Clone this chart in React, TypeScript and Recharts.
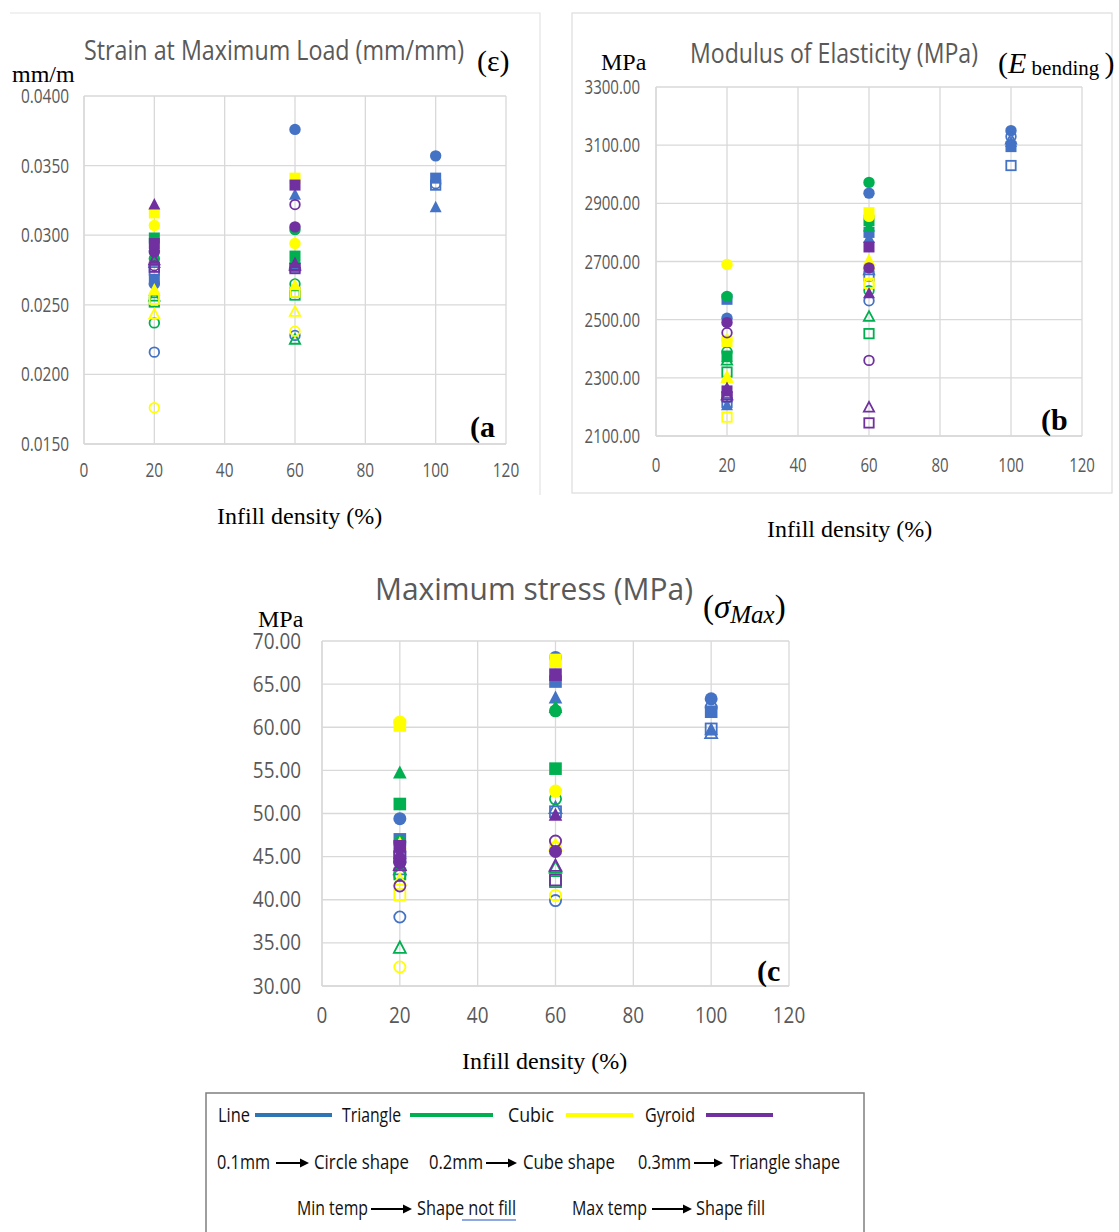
import { CartesianGrid, Scatter, ScatterChart, XAxis, YAxis } from "recharts";

// infill densities that were tested (x values of every series)
const DENSITY = [20, 60, 100];
const X_TICKS = [0, 20, 40, 60, 80, 100, 120];

const PATTERNS = ["Line", "Triangle", "Cubic", "Gyroid"];
const LAYERS = ["0.1mm", "0.2mm", "0.3mm"];
const TEMPS = ["Min temp", "Max temp"];

// every table: rows = [0.1 min, 0.1 max, 0.2 min, 0.2 max, 0.3 min, 0.3 max], columns = DENSITY
const STRAIN_LINE = [
  [0.0216, 0.0228, 0.0337],
  [0.0265, 0.0376, 0.0357],
  [0.0275, 0.0259, 0.0336],
  [0.0268, 0.0277, 0.0341],
  [0.028, 0.0279, null],
  [0.0292, 0.0329, 0.032],
];
const STRAIN_TRIANGLE = [
  [0.0237, 0.0265, null],
  [0.0283, 0.0304, null],
  [0.0252, 0.0257, null],
  [0.0298, 0.0285, null],
  [0.0256, 0.0225, null],
  [0.026, 0.0283, null],
];
const STRAIN_CUBIC = [
  [0.0176, 0.0231, null],
  [0.0307, 0.0294, null],
  [0.0254, 0.0259, null],
  [0.0316, 0.0341, null],
  [0.0243, 0.0245, null],
  [0.0261, 0.0264, null],
];
const STRAIN_GYROID = [
  [0.0278, 0.0322, null],
  [0.0288, 0.0306, null],
  [0.0277, 0.0276, null],
  [0.0294, 0.0336, null],
  [0.0282, 0.0278, null],
  [0.0322, 0.028, null],
];

const MODULUS_LINE = [
  [2230, 2565, 3130],
  [2505, 2935, 3150],
  [2215, 2650, 3030],
  [2570, 2800, 3095],
  [2240, 2670, 3120],
  [2205, 2780, 3110],
];
const MODULUS_TRIANGLE = [
  [2390, 2600, null],
  [2580, 2972, null],
  [2320, 2452, null],
  [2375, 2840, null],
  [2360, 2510, null],
  [2370, 2820, null],
];
const MODULUS_CUBIC = [
  [2430, 2620, null],
  [2690, 2855, null],
  [2165, 2625, null],
  [2425, 2868, null],
  [2300, 2690, null],
  [2305, 2705, null],
];
const MODULUS_GYROID = [
  [2455, 2360, null],
  [2490, 2678, null],
  [2235, 2145, null],
  [2255, 2750, null],
  [2240, 2198, null],
  [2265, 2590, null],
];

const STRESS_LINE = [
  [38.0, 39.9, 62.3],
  [49.4, 68.1, 63.3],
  [44.9, 50.2, 59.8],
  [47.0, 65.3, 61.8],
  [43.5, 50.6, 59.3],
  [45.0, 63.4, 59.7],
];
const STRESS_TRIANGLE = [
  [42.8, 51.7, null],
  [46.7, 61.9, null],
  [43.0, 42.1, null],
  [51.1, 55.2, null],
  [34.4, 43.7, null],
  [54.7, 62.3, null],
];
const STRESS_CUBIC = [
  [32.2, 40.5, null],
  [60.6, 52.6, null],
  [40.6, 46.0, null],
  [60.2, 67.8, null],
  [42.3, 46.3, null],
  [46.5, 67.5, null],
];
const STRESS_GYROID = [
  [41.6, 46.8, null],
  [44.3, 45.6, null],
  [45.0, 42.3, null],
  [46.2, 66.1, null],
  [44.0, 43.9, null],
  [45.4, 49.8, null],
];

const STRAIN_TICKS = [0.015, 0.02, 0.025, 0.03, 0.035, 0.04];
const MODULUS_TICKS = [2100, 2300, 2500, 2700, 2900, 3100, 3300];
const STRESS_TICKS = [30, 35, 40, 45, 50, 55, 60, 65, 70];

// styling
const MARKER_COLORS = ["#4472C4", "#00B050", "#FFFF00", "#7030A0"];
const LEGEND_COLORS = ["#2E75B6", "#00B050", "#FFFF00", "#7030A0"];
const LAYER_SHAPE = ["circle", "square", "triangle"];
const GRID = "#D9D9D9";
const TICK_GRAY = "#595959";
const SANS = "'Open Sans', 'Noto Sans', sans-serif";
const SERIF = "'Liberation Serif', 'DejaVu Serif', serif";

type MarkerProps = { cx?: number; cy?: number; shape: string; color: string; filled: boolean; r: number };

function Marker({ cx = 0, cy = 0, shape, color, filled, r }: MarkerProps) {
  const fill = filled ? color : "none";
  const sw = filled ? 0 : 1.8;
  if (shape === "circle") {
    return <circle cx={cx} cy={cy} r={filled ? r : r - 0.9} fill={fill} stroke={color} strokeWidth={sw} />;
  }
  if (shape === "square") {
    const h = filled ? r - 0.2 : r - 1;
    return <rect x={cx - h} y={cy - h} width={h * 2} height={h * 2} fill={fill} stroke={color} strokeWidth={sw} />;
  }
  const k = filled ? r : r - 0.8;
  const pts = `${cx},${cy - k * 1.15} ${cx + k * 1.05},${cy + k * 0.85} ${cx - k * 1.05},${cy + k * 0.85}`;
  return <polygon points={pts} fill={fill} stroke={color} strokeWidth={sw} strokeLinejoin="miter" />;
}

type PanelProps = {
  left: number;
  top: number;
  width: number;
  height: number;
  margin: { top: number; right: number; bottom: number; left: number };
  yDomain: [number, number];
  yTicks: number[];
  digits: number;
  tables: (number | null)[][][];
  r: number;
  font: number;
  sx: number;
  yOffset: number;
  xOffset: number;
};

function Panel(p: PanelProps) {
  const yTick = (props: any) => {
    const { x, y, payload } = props;
    return (
      <text
        transform={`translate(${x - p.yOffset},${y + p.font * 0.36}) scale(${p.sx},1)`}
        textAnchor="end"
        fontSize={p.font}
        fontFamily={SANS}
        fill={TICK_GRAY}
      >
        {Number(payload.value).toFixed(p.digits)}
      </text>
    );
  };
  const xTick = (props: any) => {
    const { x, y, payload } = props;
    return (
      <text
        transform={`translate(${x},${y + p.xOffset}) scale(${p.sx},1)`}
        textAnchor="middle"
        fontSize={p.font}
        fontFamily={SANS}
        fill={TICK_GRAY}
      >
        {payload.value}
      </text>
    );
  };

  return (
    <div style={{ position: "absolute", left: p.left, top: p.top }}>
      <ScatterChart width={p.width} height={p.height} margin={p.margin}>
        <CartesianGrid stroke={GRID} strokeWidth={1.3} />
        <XAxis
          type="number"
          dataKey="x"
          domain={[0, 120]}
          ticks={X_TICKS}
          interval={0}
          height={30}
          axisLine={{ stroke: GRID, strokeWidth: 1.3 }}
          tickLine={false}
          tickSize={0}
          tickMargin={0}
          tick={xTick}
        />
        <YAxis
          type="number"
          dataKey="y"
          domain={p.yDomain}
          ticks={p.yTicks}
          interval={0}
          allowDataOverflow
          width={80}
          axisLine={{ stroke: GRID, strokeWidth: 1.3 }}
          tickLine={false}
          tickSize={0}
          tickMargin={0}
          tick={yTick}
        />
        {p.tables.map((table, pi) =>
          table.map((row, ri) => {
            const shape = LAYER_SHAPE[Math.floor(ri / 2)];
            const filled = ri % 2 === 1;
            const data = DENSITY.map((x, i) => ({ x, y: row[i] })).filter((d) => d.y !== null);
            return (
              <Scatter
                key={`${PATTERNS[pi]}-${LAYERS[Math.floor(ri / 2)]}-${TEMPS[ri % 2]}`}
                name={`${PATTERNS[pi]} ${LAYERS[Math.floor(ri / 2)]} ${TEMPS[ri % 2]}`}
                data={data}
                isAnimationActive={false}
                shape={(sp: any) => (
                  <Marker cx={sp.cx} cy={sp.cy} shape={shape} color={MARKER_COLORS[pi]} filled={filled} r={p.r} />
                )}
              />
            );
          })
        )}
      </ScatterChart>
    </div>
  );
}

function Arrow({ x1, x2, y }: { x1: number; x2: number; y: number }) {
  return (
    <g>
      <line x1={x1} y1={y} x2={x2 - 7} y2={y} stroke="#000" strokeWidth={2} />
      <polygon points={`${x2},${y} ${x2 - 9},${y - 4.5} ${x2 - 9},${y + 4.5}`} fill="#000" />
    </g>
  );
}

function LText({ x, w, y, children }: { x: number; w: number; y: number; children: string }) {
  return (
    <text x={x} y={y} fontSize={20} fontFamily={SANS} fill="#111" textLength={w} lengthAdjust="spacingAndGlyphs">
      {children}
    </text>
  );
}

function Title({ x, w, y, size, children }: { x: number; w: number; y: number; size: number; children: string }) {
  return (
    <text x={x} y={y} fontSize={size} fontFamily={SANS} fill={TICK_GRAY} textLength={w} lengthAdjust="spacingAndGlyphs">
      {children}
    </text>
  );
}

function Overlay() {
  const serif = { fontFamily: SERIF, fill: "#000" };
  return (
    <svg width={1119} height={1232} style={{ position: "absolute", left: 0, top: 0, pointerEvents: "none" }}>
      {/* frames */}
      <polyline points="10,13 540,13 540,495" fill="none" stroke="#E3E3E3" strokeWidth={1.2} />
      <rect x={572} y={13} width={540} height={480} fill="none" stroke="#DDDDDD" strokeWidth={1.2} />

      {/* (a) */}
      <Title x={84} w={380} y={60} size={27}>Strain at Maximum Load (mm/mm)</Title>
      <text x={477} y={71} fontSize={30} {...serif}>(ε)</text>
      <text x={12} y={82} fontSize={24} {...serif}>mm/m</text>
      <text x={470} y={437} fontSize={30} fontWeight="bold" {...serif}>(a</text>
      <text x={217} y={524} fontSize={24} {...serif}>Infill density (%)</text>

      {/* (b) */}
      <Title x={690} w={288} y={63} size={27}>Modulus of Elasticity (MPa)</Title>
      <text x={601} y={70} fontSize={24} {...serif}>MPa</text>
      <text x={998} y={73} {...serif}>
        <tspan fontSize={30}>(</tspan>
        <tspan fontSize={30} fontStyle="italic">E</tspan>
        <tspan fontSize={21} dy={2}> bending </tspan>
        <tspan fontSize={30} dy={-2}>)</tspan>
      </text>
      <text x={1041} y={430} fontSize={30} fontWeight="bold" {...serif}>(b</text>
      <text x={767} y={537} fontSize={24} {...serif}>Infill density (%)</text>

      {/* (c) */}
      <Title x={375} w={318} y={600} size={31}>Maximum stress (MPa)</Title>
      <text x={258} y={627} fontSize={24} {...serif}>MPa</text>
      <text x={703} y={618} {...serif}>
        <tspan fontSize={33}>(</tspan>
        <tspan fontSize={33} fontStyle="italic">σ</tspan>
        <tspan fontSize={25} fontStyle="italic" dy={5}>Max</tspan>
        <tspan fontSize={33} dy={-5}>)</tspan>
      </text>
      <text x={757} y={981} fontSize={30} fontWeight="bold" {...serif}>(c</text>
      <text x={462} y={1069} fontSize={24} {...serif}>Infill density (%)</text>

      {/* legend box */}
      <rect x={206} y={1093} width={658} height={160} fill="none" stroke="#7F7F7F" strokeWidth={1.5} />
      <LText x={218} w={32} y={1122}>{PATTERNS[0]}</LText>
      <line x1={255} x2={332} y1={1115} y2={1115} stroke={LEGEND_COLORS[0]} strokeWidth={4} />
      <LText x={342} w={59} y={1122}>{PATTERNS[1]}</LText>
      <line x1={410} x2={493} y1={1115} y2={1115} stroke={LEGEND_COLORS[1]} strokeWidth={4} />
      <LText x={508} w={46} y={1122}>{PATTERNS[2]}</LText>
      <line x1={566} x2={633} y1={1115} y2={1115} stroke={LEGEND_COLORS[2]} strokeWidth={4} />
      <LText x={645} w={50} y={1122}>{PATTERNS[3]}</LText>
      <line x1={706} x2={773} y1={1115} y2={1115} stroke={LEGEND_COLORS[3]} strokeWidth={4} />

      <LText x={217} w={53} y={1169}>{LAYERS[0]}</LText>
      <Arrow x1={276} x2={309} y={1163} />
      <LText x={314} w={95} y={1169}>Circle shape</LText>
      <LText x={429} w={54} y={1169}>{LAYERS[1]}</LText>
      <Arrow x1={486} x2={517} y={1163} />
      <LText x={523} w={92} y={1169}>Cube shape</LText>
      <LText x={638} w={53} y={1169}>{LAYERS[2]}</LText>
      <Arrow x1={694} x2={723} y={1163} />
      <LText x={730} w={110} y={1169}>Triangle shape</LText>

      <LText x={297} w={71} y={1215}>{TEMPS[0]}</LText>
      <Arrow x1={371} x2={412} y={1209} />
      <LText x={417} w={99} y={1215}>Shape not fill</LText>
      <line x1={462} x2={516} y1={1220} y2={1220} stroke="#8EA9E0" strokeWidth={1.8} />
      <LText x={572} w={75} y={1215}>{TEMPS[1]}</LText>
      <Arrow x1={652} x2={692} y={1209} />
      <LText x={696} w={69} y={1215}>Shape fill</LText>
    </svg>
  );
}

export default function App() {
  return (
    <div style={{ position: "absolute", left: 0, top: 0, width: 1119, height: 1232, background: "#fff", overflow: "hidden" }}>
      <Panel
        left={0}
        top={0}
        width={540}
        height={500}
        margin={{ top: 96, right: 34, bottom: 26, left: 4 }}
        yDomain={[0.015, 0.04]}
        yTicks={STRAIN_TICKS}
        digits={4}
        tables={[STRAIN_LINE, STRAIN_TRIANGLE, STRAIN_CUBIC, STRAIN_GYROID]}
        r={5.7}
        font={19.5}
        sx={0.79}
        yOffset={15}
        xOffset={33}
      />
      <Panel
        left={572}
        top={0}
        width={545}
        height={500}
        margin={{ top: 87, right: 35, bottom: 34, left: 4 }}
        yDomain={[2100, 3300]}
        yTicks={MODULUS_TICKS}
        digits={2}
        tables={[MODULUS_LINE, MODULUS_TRIANGLE, MODULUS_CUBIC, MODULUS_GYROID]}
        r={5.7}
        font={19.5}
        sx={0.77}
        yOffset={16}
        xOffset={36}
      />
      <Panel
        left={240}
        top={560}
        width={580}
        height={470}
        margin={{ top: 81, right: 31, bottom: 14, left: 2 }}
        yDomain={[30, 70]}
        yTicks={STRESS_TICKS}
        digits={2}
        tables={[STRESS_LINE, STRESS_TRIANGLE, STRESS_CUBIC, STRESS_GYROID]}
        r={6.5}
        font={21}
        sx={0.9}
        yOffset={21}
        xOffset={37}
      />
      <Overlay />
    </div>
  );
}
